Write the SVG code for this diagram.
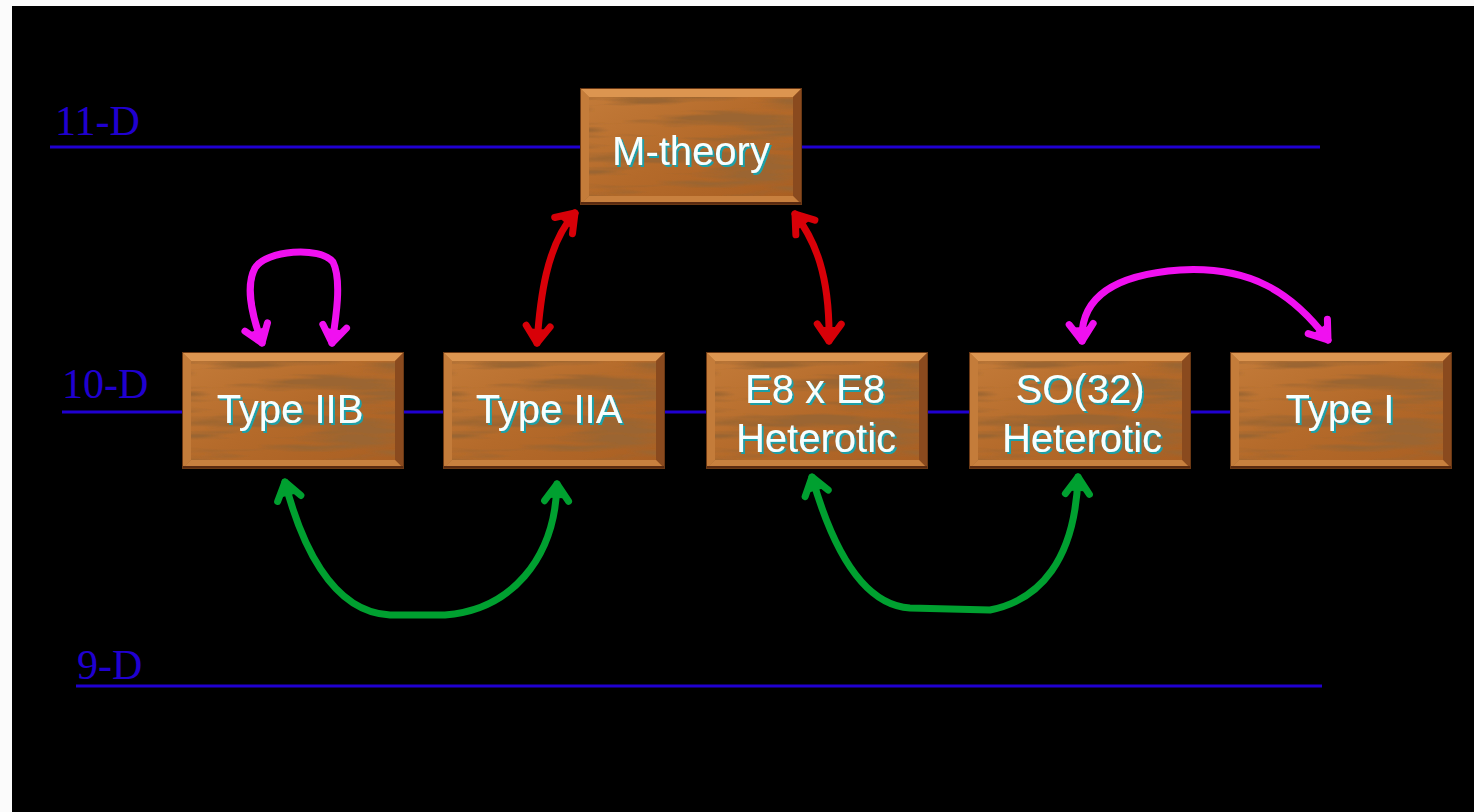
<svg xmlns="http://www.w3.org/2000/svg" xmlns:xlink="http://www.w3.org/1999/xlink" width="1474" height="812" viewBox="0 0 1474 812">
<style>
.dim{font-family:"Liberation Serif",serif;font-size:42px;fill:#2000d0}
.lvl{stroke:#2000d0;stroke-width:3;fill:none}
.lbl{font-family:"Liberation Sans",Arial,sans-serif;font-size:40px;fill:#f6ffff;text-anchor:middle;filter:url(#tshadow)}
.arr{fill:none;stroke-width:7;stroke-linecap:round;stroke-linejoin:round}
.mag{stroke:#f010f0}
.red{stroke:#d80008}
.grn{stroke:#00a030}
</style>
<defs>
<filter id="tshadow" x="-10%" y="-20%" width="120%" height="150%">
<feDropShadow dx="2" dy="2" stdDeviation="0" flood-color="#1ea0a8" flood-opacity="1"/>
</filter>
<filter id="grain" x="0" y="0" width="100%" height="100%">
<feTurbulence type="fractalNoise" baseFrequency="0.008 0.08" numOctaves="3" seed="7" result="n"/>
<feColorMatrix in="n" type="matrix" values="0 0 0 0 0.33  0 0 0 0 0.13  0 0 0 0 0.03  -4.5 0 0 0 2.55" result="c"/>
<feComposite in="c" in2="SourceGraphic" operator="in"/>
</filter>
<linearGradient id="woodg" x1="0" y1="0" x2="1" y2="1">
<stop offset="0" stop-color="#c47c3a"/>
<stop offset="0.5" stop-color="#b46a2a"/>
<stop offset="1" stop-color="#a85e22"/>
</linearGradient>
<symbol id="box" viewBox="0 0 222 117" width="222" height="117">
<rect x="0" y="0" width="222" height="117" fill="url(#woodg)"/>
<rect x="0" y="0" width="222" height="117" fill="#000" filter="url(#grain)"/>
<polygon points="0,0 222,0 213,9 9,9" fill="#dc9550"/>
<polygon points="0,0 9,9 9,108 0,117" fill="#c47c3a"/>
<polygon points="222,0 222,117 213,108 213,9" fill="#8a4a1e"/>
<polygon points="0,117 9,108 213,108 222,117" fill="#c8803e"/>
<line x1="0" y1="115.5" x2="222" y2="115.5" stroke="#5a2a10" stroke-width="3"/>
<rect x="0.5" y="0.5" width="221" height="116" fill="none" stroke="#6a3814" stroke-width="1"/>
</symbol>
<marker id="amag" viewBox="-22 -16 26 32" markerWidth="26" markerHeight="32" refX="0" refY="0" orient="auto-start-reverse" markerUnits="userSpaceOnUse">
<path d="M-17,-12 L0,0 L-17,12" fill="none" stroke="#f010f0" stroke-width="7" stroke-linejoin="round" stroke-linecap="round"/>
<path d="M1,0 L-14,-8 L-14,8 Z" fill="#f010f0"/>
</marker>
<marker id="ared" viewBox="-22 -16 26 32" markerWidth="26" markerHeight="32" refX="0" refY="0" orient="auto-start-reverse" markerUnits="userSpaceOnUse">
<path d="M-17,-12 L0,0 L-17,12" fill="none" stroke="#d80008" stroke-width="7" stroke-linejoin="round" stroke-linecap="round"/>
<path d="M1,0 L-14,-8 L-14,8 Z" fill="#d80008"/>
</marker>
<marker id="agrn" viewBox="-22 -16 26 32" markerWidth="26" markerHeight="32" refX="0" refY="0" orient="auto-start-reverse" markerUnits="userSpaceOnUse">
<path d="M-17,-12 L0,0 L-17,12" fill="none" stroke="#00a030" stroke-width="7" stroke-linejoin="round" stroke-linecap="round"/>
<path d="M1,0 L-14,-8 L-14,8 Z" fill="#00a030"/>
</marker>
</defs>

<rect x="0" y="0" width="1474" height="812" fill="#fbfbfb"/>
<rect x="12" y="6" width="1462" height="806" fill="#000"/>

<g id="levels">
<line class="lvl" x1="50" y1="147" x2="1320" y2="147"/>
<line class="lvl" x1="62" y1="412" x2="1300" y2="412"/>
<line class="lvl" x1="76" y1="686" x2="1322" y2="686"/>
<text class="dim" x="55" y="135">11-D</text>
<text class="dim" x="62" y="398">10-D</text>
<text class="dim" x="77" y="679">9-D</text>
</g>

<g id="connectors">
<path class="arr mag" d="M262,343 C250,310 246,285 255,268 C266,250 320,246 333,262 C342,280 336,318 332,343" marker-start="url(#amag)" marker-end="url(#amag)"/>
<path class="arr red" d="M537,343 C540,300 546,245 575,213" marker-start="url(#ared)" marker-end="url(#ared)"/>
<path class="arr red" d="M795,214 C815,240 830,275 829,341" marker-start="url(#ared)" marker-end="url(#ared)"/>
<path class="arr mag" d="M1082,341 C1080,300 1110,275 1180,270 C1250,266 1292,292 1328,340" marker-start="url(#amag)" marker-end="url(#amag)"/>
<path class="arr grn" d="M285,482 C300,540 330,612 390,615 L445,615 C510,610 555,560 557,484" marker-start="url(#agrn)" marker-end="url(#agrn)"/>
<path class="arr grn" d="M812,477 C830,540 860,605 910,608 L990,610 C1040,600 1075,560 1078,477" marker-start="url(#agrn)" marker-end="url(#agrn)"/>
</g>

<g id="m-theory">
<use href="#box" x="580" y="88"/>
<text class="lbl" x="691" y="165">M-theory</text>
</g>
<g id="type-iib">
<use href="#box" x="182" y="352"/>
<text class="lbl" x="290" y="423">Type IIB</text>
</g>
<g id="type-iia">
<use href="#box" x="443" y="352"/>
<text class="lbl" x="549" y="423">Type IIA</text>
</g>
<g id="e8-heterotic">
<use href="#box" x="706" y="352"/>
<text class="lbl" x="815" y="403">E8 x E8</text>
<text class="lbl" x="816" y="452">Heterotic</text>
</g>
<g id="so32-heterotic">
<use href="#box" x="969" y="352"/>
<text class="lbl" x="1080" y="403">SO(32)</text>
<text class="lbl" x="1082" y="452">Heterotic</text>
</g>
<g id="type-i">
<use href="#box" x="1230" y="352"/>
<text class="lbl" x="1340" y="423">Type I</text>
</g>
</svg>
